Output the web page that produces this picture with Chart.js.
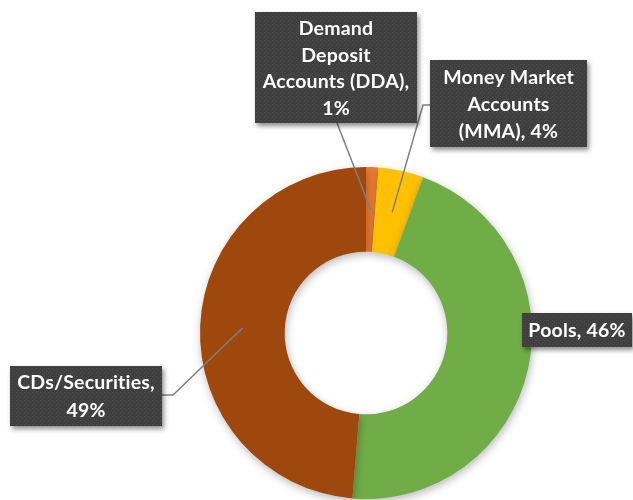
<!DOCTYPE html>
<html>
<head>
<meta charset="utf-8">
<script src="https://cdn.jsdelivr.net/npm/chart.js@4.4.1/dist/chart.umd.min.js"></script>
<style>
  html, body { margin: 0; padding: 0; background: #fff; }
  #wrap { width: 633px; height: 500px; position: relative; }
</style>
</head>
<body>
<div id="wrap"><canvas id="donutChart" width="633" height="500"></canvas></div>
<script>
// data
const categories = ['Demand Deposit Accounts (DDA)', 'Money Market Accounts (MMA)', 'Pools', 'CDs/Securities'];
const shares = [1.2, 4.4, 45.7, 48.7];
const shareLabels = ['1%', '4%', '46%', '49%'];
const sliceColors = ['#ED7D31', '#FFC000', '#70AD47', '#9E480E'];

// label text as it wraps in the boxes
const labelLines = [
    ['Demand', 'Deposit', 'Accounts (DDA),', shareLabels[0]],
    ['Money Market', 'Accounts', '(MMA), ' + shareLabels[1]],
    ['Pools, ' + shareLabels[2]],
    ['CDs/Securities,', shareLabels[3]],
];

// where the callout boxes sit, and the elbow of each leader line
const boxLayout = [
    { x: 255, y: 12, w: 162, h: 111, lineY: 26.5, leader: [[337, 123]] },
    { x: 430, y: 60, w: 157, h: 87, lineY: 27, leader: [[423, 105], [430, 105]] },
    { x: 522, y: 313, w: 110, h: 34, lineY: 27, leader: null },
    { x: 10, y: 366, w: 152, h: 60, lineY: 28, leader: [[173, 395], [162, 395]] },
];

function makePattern(ctx) {
    const p = document.createElement('canvas');
    p.width = 4; p.height = 4;
    const pc = p.getContext('2d');
    pc.fillStyle = '#3f3f3f';
    pc.fillRect(0, 0, 4, 4);
    pc.fillStyle = '#4d4d4d';
    pc.fillRect(0, 0, 1, 1);
    pc.fillRect(2, 2, 1, 1);
    return ctx.createPattern(p, 'repeat');
}

const sliceShadow = {
    id: 'sliceShadow',
    beforeDatasetsDraw(chart) {
        const ctx = chart.ctx;
        ctx.save();
        ctx.shadowColor = 'rgba(0,0,0,0.28)';
        ctx.shadowBlur = 9;
        ctx.shadowOffsetX = 1;
        ctx.shadowOffsetY = 3;
    },
    afterDatasetsDraw(chart) {
        chart.ctx.restore();
    },
};

const callouts = {
    id: 'callouts',
    afterDraw(chart) {
        const ctx = chart.ctx;
        const arcs = chart.getDatasetMeta(0).data;
        const fill = makePattern(ctx);

        // leader lines first, boxes cover their ends
        arcs.forEach((arc, i) => {
            const lay = boxLayout[i];
            if (!lay.leader) return;
            const mid = (arc.startAngle + arc.endAngle) / 2;
            const r = (arc.innerRadius + arc.outerRadius) / 2;
            ctx.save();
            ctx.strokeStyle = '#7f7f7f';
            ctx.lineWidth = 1.5;
            ctx.beginPath();
            ctx.moveTo(arc.x + Math.cos(mid) * r, arc.y + Math.sin(mid) * r);
            lay.leader.forEach(pt => ctx.lineTo(pt[0], pt[1]));
            ctx.stroke();
            ctx.restore();
        });

        arcs.forEach((arc, i) => {
            const lay = boxLayout[i];
            ctx.save();
            ctx.shadowColor = 'rgba(0,0,0,0.45)';
            ctx.shadowBlur = 5;
            ctx.shadowOffsetX = 2;
            ctx.shadowOffsetY = 3;
            ctx.fillStyle = fill;
            ctx.fillRect(lay.x, lay.y, lay.w, lay.h);
            ctx.restore();

            ctx.save();
            ctx.fillStyle = '#ffffff';
            ctx.font = 'bold 19.5px Lato';
            ctx.letterSpacing = '0.2px'; // breaks the Lato "ti" ligature
            ctx.textAlign = 'center';
            ctx.textBaseline = 'middle';
            const lines = labelLines[i];
            const cx = lay.x + lay.w / 2;
            const top = lay.y + lay.h / 2 - (lines.length - 1) * lay.lineY / 2;
            lines.forEach((t, k) => ctx.fillText(t, cx, top + k * lay.lineY + 1));
            ctx.restore();
        });
    },
};

new Chart(document.getElementById('donutChart').getContext('2d'), {
    type: 'doughnut',
    data: {
        labels: categories,
        datasets: [{
            data: shares,
            backgroundColor: sliceColors,
            borderWidth: 0,
        }],
    },
    options: {
        responsive: false,
        animation: false,
        cutout: '49%',
        rotation: 0,
        layout: { padding: { left: 200, right: 101, top: 167, bottom: 1 } },
        plugins: {
            legend: { display: false },
            tooltip: { enabled: false },
        },
    },
    plugins: [sliceShadow, callouts],
});
</script>
</body>
</html>
